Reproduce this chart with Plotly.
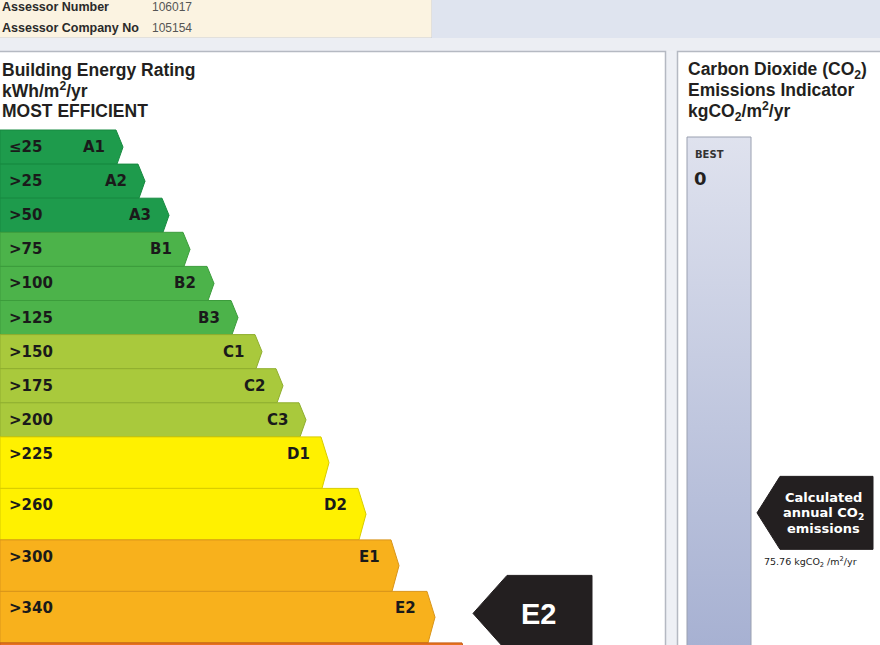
import plotly.graph_objects as go

# ---------------- data ----------------
grades = ["A1", "A2", "A3", "B1", "B2", "B3", "C1", "C2", "C3", "D1", "D2", "E1", "E2", "F"]
thresholds = ["≤25", ">25", ">50", ">75", ">100", ">125", ">150", ">175", ">200",
              ">225", ">260", ">300", ">340", ">380"]
rating = "E2"
co2_value = 75.76
assessor_number = "106017"
assessor_company_no = "105154"

# ---------------- styles / geometry ----------------
band_colors = ["#1e9b4c", "#1e9b4c", "#1e9b4c", "#4cb34a", "#4cb34a", "#4cb34a",
               "#a9c93c", "#a9c93c", "#a9c93c", "#fff100", "#fff100", "#f8b11c", "#f8b11c", "#e8721f"]
band_lines = ["#178a40", "#178a40", "#178a40", "#3c9c3c", "#3c9c3c", "#3c9c3c",
              "#8fae2e", "#8fae2e", "#8fae2e", "#d8cc00", "#d8cc00", "#d9951a", "#d9951a", "#c85f18"]
band_right = [117, 139, 163, 184, 208, 232, 256, 277, 300, 322, 359, 392, 428, 463]
band_heights = [34.1] * 9 + [51.5] * 5
BAND_TOP0 = 130
VIEW_H = 645

tops = []
y = BAND_TOP0
for h in band_heights:
    tops.append(y)
    y += h

fig = go.Figure()

shapes = [
    dict(type="rect", x0=-2, x1=432, y0=-2, y1=38, fillcolor="#fbf3e1", line=dict(color="#c9ccd6", width=1), layer="below"),
    dict(type="rect", x0=432, x1=882, y0=-2, y1=38, fillcolor="#dfe4ef", line=dict(width=0), layer="below"),
    dict(type="rect", x0=-2, x1=882, y0=38, y1=51, fillcolor="#eceef3", line=dict(width=0), layer="below"),
    dict(type="rect", x0=665, x1=678, y0=51, y1=650, fillcolor="#eef0f5", line=dict(width=0), layer="below"),
    dict(type="rect", x0=-3, x1=665.5, y0=51.5, y1=660, fillcolor="white", line=dict(color="#b5b9c2", width=1.5), layer="below"),
    dict(type="rect", x0=677.5, x1=885, y0=51.5, y1=660, fillcolor="white", line=dict(color="#b5b9c2", width=1.5), layer="below"),
]

# energy bands
for i, g in enumerate(grades):
    t = tops[i]
    b = t + band_heights[i]
    r = band_right[i]
    tip = r + (6 if band_heights[i] < 40 else 7)
    fig.add_trace(go.Scatter(
        x=[0, r - 1, tip, r, 0, 0], y=[t, t, (t + b) / 2, b, b, t],
        mode="lines", fill="toself", fillcolor=band_colors[i],
        line=dict(color=band_lines[i], width=1), hoverinfo="skip", showlegend=False))

# CO2 gradient bar
fig.add_trace(go.Scatter(
    x=[687, 751, 751, 687, 687], y=[137, 137, 660, 660, 137],
    mode="lines", fill="toself",
    fillgradient=dict(type="vertical", start=137, stop=645,
                      colorscale=[[0, "#dfe2ee"], [1, "#a7b1d2"]]),
    line=dict(color="#9aa0b0", width=1), hoverinfo="skip", showlegend=False))

# rating pointer (E2)
ri = grades.index(rating)
rt = tops[ri] - 16
rb = rt + 76
rm = (rt + rb) / 2
fig.add_trace(go.Scatter(
    x=[507, 592, 592, 507, 473, 507], y=[rt, rt, rb, rb, rm, rt],
    mode="lines", fill="toself", fillcolor="#231f20",
    line=dict(color="#231f20", width=1), hoverinfo="skip", showlegend=False))

# CO2 pointer
CO2_ZERO_Y = 178
CO2_PX_PER_UNIT = 4.42
cy = CO2_ZERO_Y + co2_value * CO2_PX_PER_UNIT
fig.add_trace(go.Scatter(
    x=[780, 873, 873, 780, 757, 780], y=[cy - 36.5, cy - 36.5, cy + 36.5, cy + 36.5, cy, cy - 36.5],
    mode="lines", fill="toself", fillcolor="#231f20",
    line=dict(color="#231f20", width=1), hoverinfo="skip", showlegend=False))

ann = []
TITLE_FONT = dict(family="Liberation Sans, Arial", size=17.5, color="#231f20", weight="bold")
BAND_FONT = dict(family="DejaVu Sans", size=15, color="#1a1a1a", weight="bold")

def A(x, y, text, font, xanchor="left", yanchor="middle"):
    ann.append(dict(x=x, y=y, xref="x", yref="y", text=text, showarrow=False,
                    xanchor=xanchor, yanchor=yanchor, font=font))

# header
HF_B = dict(family="Liberation Sans, Arial", size=12.5, color="#2a2a2a", weight="bold")
HF = dict(family="Liberation Sans, Arial", size=12, color="#555555")
A(0, 7, "Assessor Number", HF_B)
A(150, 7, assessor_number, HF)
A(0, 28, "Assessor Company No", HF_B)
A(150, 28, assessor_company_no, HF)

# left titles
A(0, 70, "Building Energy Rating", TITLE_FONT)
A(0, 90, "kWh/m<sup>2</sup>/yr", TITLE_FONT)
A(0, 111, "MOST EFFICIENT", TITLE_FONT)

# band labels (only bands whose label falls inside the visible area)
for i, g in enumerate(grades):
    yy = tops[i] + 17
    if yy > VIEW_H:
        continue
    A(7, yy, thresholds[i], BAND_FONT)
    A(band_right[i] - 10, yy, g, BAND_FONT, xanchor="right")

# rating label
A(538, rm + 1, rating, dict(family="Liberation Sans, Arial", size=29, color="white", weight="bold"), xanchor="center")

# right titles
A(686, 70, "Carbon Dioxide (CO<sub>2</sub>)", TITLE_FONT)
A(686, 90, "Emissions Indicator", TITLE_FONT)
A(686, 111, "kgCO<sub>2</sub>/m<sup>2</sup>/yr", TITLE_FONT)
A(693, 154, "BEST", dict(family="DejaVu Sans", size=10, color="#333333", weight="bold"))
A(692, 178, "0", dict(family="DejaVu Sans", size=18, color="#231f20", weight="bold"))

# CO2 pointer text
PF = dict(family="DejaVu Sans", size=13, color="white", weight="bold")
A(823, cy - 15, "Calculated", PF, xanchor="center")
A(823, cy + 1, "annual CO<sub>2</sub>", PF, xanchor="center")
A(823, cy + 16, "emissions", PF, xanchor="center")
A(810, cy + 49, f"{co2_value:.2f} kgCO<sub>2</sub> /m<sup>2</sup>/yr",
  dict(family="DejaVu Sans", size=9.5, color="#222222"), xanchor="center")

fig.update_layout(
    width=880, height=645, margin=dict(l=0, r=0, t=0, b=0),
    paper_bgcolor="#eef0f5", plot_bgcolor="#eef0f5",
    xaxis=dict(range=[0, 880], visible=False, fixedrange=True),
    yaxis=dict(range=[VIEW_H, 0], visible=False, fixedrange=True),
    shapes=shapes, annotations=ann, showlegend=False,
)

fig.write_html("out.html", config={"displayModeBar": False},
               post_script="document.body.style.margin='0';document.body.style.overflow='hidden';")
